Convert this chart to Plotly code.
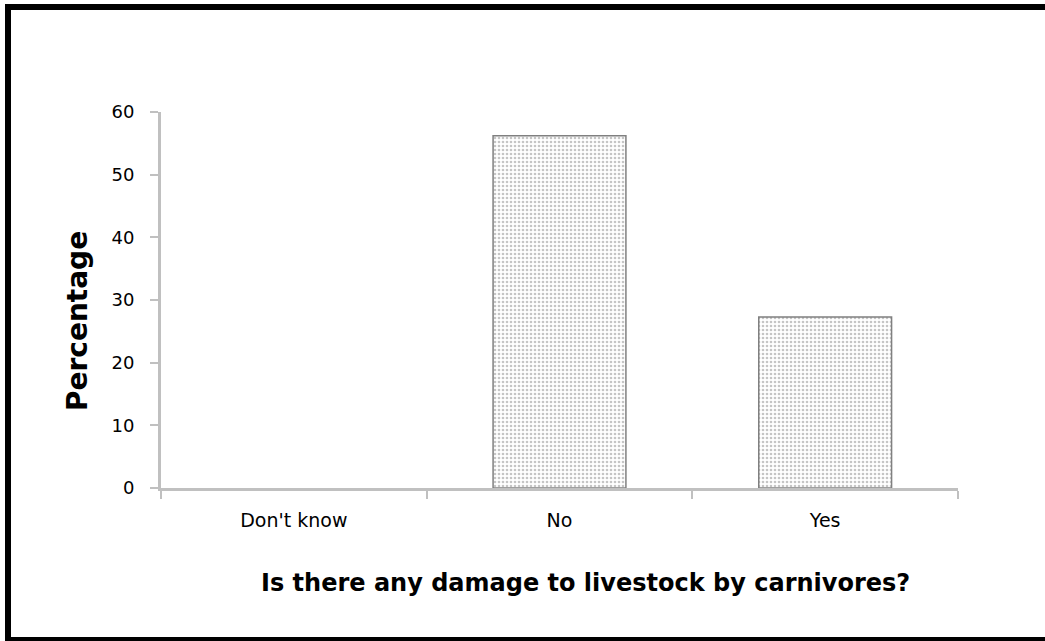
import plotly.graph_objects as go

categories = ["Don't know", "No", "Yes"]
percentages = [0, 56.2, 27.3]
y_ticks = [0, 10, 20, 30, 40, 50, 60]

W, H = 1045, 641
L, T = 161, 112
R = W - 958
B = H - 488
pw, ph = W - L - R, H - T - B

def px_x(px):
    return (px - L) / pw

def px_y(py):
    return (H - B - py) / ph

fig = go.Figure()
fig.add_trace(go.Bar(
    x=categories, y=percentages, width=0.5,
    marker=dict(color="white",
                line=dict(color="#808080", width=[0, 1.5, 1.5]),
                pattern=dict(shape=".", fgcolor="#8c8c8c", bgcolor="white",
                             size=4, solidity=0.35)),
    showlegend=False,
))

fig.update_layout(
    width=W, height=H,
    margin=dict(l=L, r=R, t=T, b=B, autoexpand=False),
    paper_bgcolor="white", plot_bgcolor="white",
    font=dict(family="DejaVu Sans", color="black"),
    xaxis=dict(type="category", showline=True, linecolor="#c0c0c0", linewidth=3,
               ticks="outside", tickson="boundaries", ticklen=8, tickwidth=2,
               tickcolor="#c0c0c0", showgrid=False, zeroline=False,
               tickfont=dict(size=19, family="DejaVu Sans"), ticklabelstandoff=13),
    yaxis=dict(range=[0, 60], tickvals=y_ticks, showline=True, linecolor="#c0c0c0",
               linewidth=3, ticks="outside", ticklen=8, tickwidth=2,
               tickcolor="#c0c0c0", showgrid=False, zeroline=False,
               tickfont=dict(size=18, family="DejaVu Sans"), ticklabelstandoff=12),
    annotations=[
        dict(text="<b>Percentage</b>", xref="paper", yref="paper",
             x=px_x(77), y=px_y(321), textangle=-90, showarrow=False,
             font=dict(size=28, family="DejaVu Sans", color="black"),
             xanchor="center", yanchor="middle"),
        dict(text="<b>Is there any damage to livestock by carnivores?</b>",
             xref="paper", yref="paper", x=px_x(585), y=px_y(583),
             showarrow=False, font=dict(size=24, family="DejaVu Sans", color="black"),
             xanchor="center", yanchor="middle"),
    ],
    shapes=[
        dict(type="rect", xref="paper", yref="paper",
             x0=px_x(8), x1=px_x(1100), y0=px_y(640), y1=px_y(7),
             line=dict(color="black", width=6), fillcolor="rgba(0,0,0,0)"),
    ],
)

fig.write_html(
    "out.html",
    config={"displayModeBar": False},
    post_script="document.body.style.margin='0';document.body.style.overflow='hidden';",
)
